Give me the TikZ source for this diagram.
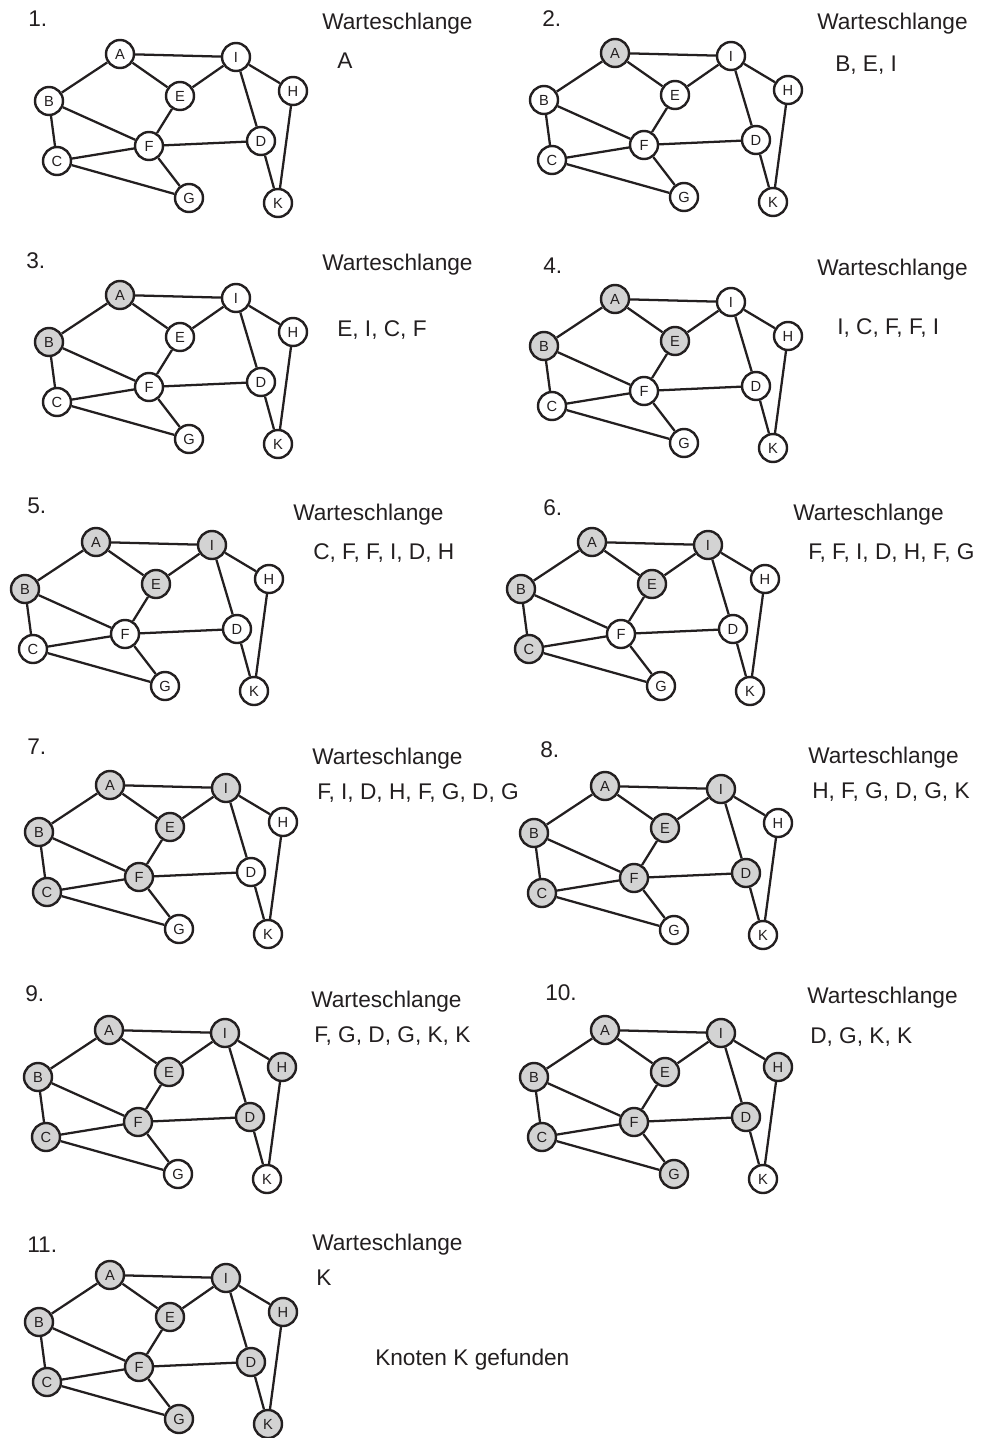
\documentclass[tikz,border=0pt]{standalone}
\usepackage{fontspec}
\setmainfont{Liberation Sans}
\usepackage{tikz}
\usepackage{color}

\definecolor{besuchtgrau}{RGB}{211,211,211}
\definecolor{tinte}{RGB}{35,31,32}

\tikzset{
  knoten/.style={circle,draw=tinte,line width=1.8pt,fill=white,minimum size=21pt,inner sep=0pt,text=tinte,font=\fontsize{11}{13}\selectfont},
  besucht/.style={fill=besuchtgrau},
  kante/.style={draw=tinte,line width=1.7pt},
  beschrift/.style={anchor=west,inner sep=0pt,text=tinte,font=\fontsize{17}{20}\selectfont}
}

% one BFS step: #1 prefix, #2/#3 position of A, #4 step number
\newcommand{\bfspanel}[4]{%
\begin{scope}[shift={(#2,#3)}]
\foreach \n/\px/\py/\o in {A/0/0/2, I/116/3/5, B/-71/47/3, E/60/42/4, H/173/37/9, F/29/92/7, D/141/87/8, C/-63/107/6, G/69/144/10, K/158/149/11}{
  \ifnum#4<\o
    \node[knoten] (#1\n) at (\px,\py) {\n};
  \else
    \node[knoten,besucht] (#1\n) at (\px,\py) {\n};
  \fi
}
\foreach \a/\b in {A/I,A/B,A/E,I/E,I/H,I/D,B/F,B/C,E/F,F/C,F/D,F/G,C/G,D/K,H/K}
  \draw[kante] (#1\a) -- (#1\b);
\end{scope}}

\begin{document}
\begin{tikzpicture}[x=0.75pt,y=0.75pt,yscale=-1,xscale=1]
\useasboundingbox (0,0) rectangle (985,1438);

%Graphs
\bfspanel{a}{120}{54}{1}
\bfspanel{b}{615}{53}{2}
\bfspanel{c}{120}{295}{3}
\bfspanel{d}{615}{299}{4}
\bfspanel{e}{96}{542}{5}
\bfspanel{f}{592}{542}{6}
\bfspanel{g}{110}{785}{7}
\bfspanel{h}{605}{786}{8}
\bfspanel{i}{109}{1030}{9}
\bfspanel{j}{605}{1030}{10}
\bfspanel{k}{110}{1275}{11}

%Step numbers
\node[beschrift] (n1) at (28,19) {1.};
\node[beschrift] (n2) at (542,19) {2.};
\node[beschrift] (n3) at (26,261) {3.};
\node[beschrift] (n4) at (543,266) {4.};
\node[beschrift] (n5) at (27,506) {5.};
\node[beschrift] (n6) at (543,508) {6.};
\node[beschrift] (n7) at (27,747) {7.};
\node[beschrift] (n8) at (540,750) {8.};
\node[beschrift] (n9) at (25,994) {9.};
\node[beschrift] (n10) at (545,993) {10.};
\node[beschrift] (n11) at (27,1245) {11.};

%Queues
\node[beschrift] (w1) at (322,24) {Warteschlange};
\node[beschrift] (q1) at (337,61) {A};
\node[beschrift] (w2) at (817,24) {Warteschlange};
\node[beschrift] (q2) at (835,65) {B, E, I};
\node[beschrift] (w3) at (322,265) {Warteschlange};
\node[beschrift] (q3) at (337,330) {E, I, C, F};
\node[beschrift] (w4) at (817,270) {Warteschlange};
\node[beschrift] (q4) at (837,328) {I, C, F, F, I};
\node[beschrift] (w5) at (293,515) {Warteschlange};
\node[beschrift] (q5) at (313,553) {C, F, F, I, D, H};
\node[beschrift] (w6) at (793,515) {Warteschlange};
\node[beschrift] (q6) at (808,553) {F, F, I, D, H, F, G};
\node[beschrift] (w7) at (312,759) {Warteschlange};
\node[beschrift] (q7) at (317,793) {F, I, D, H, F, G, D, G};
\node[beschrift] (w8) at (808,758) {Warteschlange};
\node[beschrift] (q8) at (812,792) {H, F, G, D, G, K};
\node[beschrift] (w9) at (311,1002) {Warteschlange};
\node[beschrift] (q9) at (314,1036) {F, G, D, G, K, K};
\node[beschrift] (w10) at (807,998) {Warteschlange};
\node[beschrift] (q10) at (810,1037) {D, G, K, K};
\node[beschrift] (w11) at (312,1245) {Warteschlange};
\node[beschrift] (q11) at (316,1278) {K};
\node[beschrift] (fund) at (375,1360) {Knoten K gefunden};

\end{tikzpicture}
\end{document}
